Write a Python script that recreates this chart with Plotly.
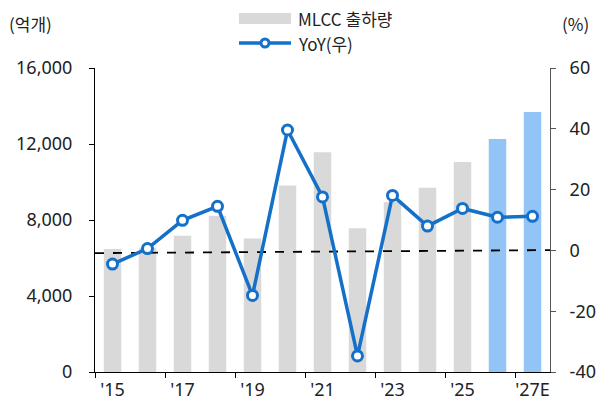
import plotly.graph_objects as go

years = ["'15", "'16", "'17", "'18", "'19", "'20", "'21", "'22", "'23", "'24", "'25", "'26E", "'27E"]
shipments = [6470, 6540, 7170, 8230, 7030, 9810, 11560, 7560, 8950, 9700, 11050, 12260, 13680]
yoy = [-4.5, 0.6, 9.9, 14.5, -14.8, 39.6, 17.6, -34.7, 18.1, 8.0, 13.8, 10.9, 11.2]
is_forecast = [False] * 11 + [True] * 2
ref_x = [-0.5, 12.5]
ref_y = [-0.9, 0.1]

tick_idx = [0, 2, 4, 6, 8, 10, 12]
tick_text = ["'15", "'17", "'19", "'21", "'23", "'25", "'27E"]
tick_bounds = [i - 0.5 for i in tick_idx]
pct_ticks = [-40, -20, 0, 20, 40, 60]
pct_text = ["-40", "-20", "0", "20", "40", "60"]

FONT = "Noto Sans CJK KR"
TICKFONT = dict(family="Noto Sans, Noto Sans CJK KR", size=18, color="#222222")
GRAY = "#d9d9d9"
BLUE = "#1470c8"
LIGHT = "#92c5f5"
x = list(range(len(years)))
bar_colors = [LIGHT if f else GRAY for f in is_forecast]

# plot area in pixels: left 95, right 550, top 68, bottom 372
L, R, T, B = 95, 550, 68, 372
def px(xp):
    return (xp - L) / (R - L)
def py(yp):
    return (B - yp) / (B - T)

fig = go.Figure()
fig.add_trace(go.Bar(x=x, y=shipments, name="MLCC 출하량", width=0.5,
                     marker=dict(color=bar_colors, line=dict(width=0)),
                     showlegend=False))
fig.add_trace(go.Scatter(x=ref_x, y=ref_y, yaxis="y2", mode="lines",
                         line=dict(color="black", width=1.8, dash="dash"),
                         showlegend=False, hoverinfo="skip"))
fig.add_trace(go.Scatter(x=x, y=yoy, yaxis="y2", name="YoY(우)",
                         mode="lines+markers",
                         line=dict(color=BLUE, width=3.5),
                         marker=dict(size=10, color="white",
                                     line=dict(color=BLUE, width=3)),
                         showlegend=False))

# legend keys drawn by hand (wide swatches like the original)
shapes = [
    dict(type="rect", xref="paper", yref="paper", x0=px(239), x1=px(291),
         y0=py(24), y1=py(13), fillcolor=GRAY, line=dict(width=0)),
    dict(type="line", xref="paper", yref="paper", x0=px(239), x1=px(291),
         y0=py(43), y1=py(43), line=dict(color=BLUE, width=3.5)),
    dict(type="circle", xref="paper", yref="paper", x0=px(261), x1=px(269),
         y0=py(47), y1=py(39), fillcolor="white", line=dict(color=BLUE, width=3)),
]

annotations = [
    dict(text="MLCC 출하량", x=px(296), y=py(18.5), xanchor="left"),
    dict(text="YoY(우)", x=px(296), y=py(43), xanchor="left"),
    dict(text="(억개)", x=px(7), y=py(23), xanchor="left"),
    dict(text="(%)", x=px(591), y=py(23), xanchor="right"),
]
for a in annotations:
    a.update(xref="paper", yref="paper", yanchor="middle", showarrow=False)

fig.update_layout(
    width=597, height=406,
    margin=dict(l=L, r=597 - R, t=T, b=406 - B, autoexpand=False),
    plot_bgcolor="white", paper_bgcolor="white",
    font=dict(family=FONT, size=17, color="#222222"),
    showlegend=False,
    xaxis=dict(range=[-0.5, 12.5], tickmode="array", tickvals=tick_idx,
               ticktext=tick_text, ticks="", showgrid=False, zeroline=False,
               showline=True, linecolor="black", linewidth=1, tickfont=TICKFONT,
               tickangle=0, automargin=False, ticklabelstandoff=1,
               minor=dict(tickmode="array", tickvals=tick_bounds, ticks="outside",
                          ticklen=5, tickcolor="black", showgrid=False)),
    yaxis=dict(range=[0, 16000], dtick=4000, tickformat=",", ticks="outside",
               ticklen=5, tickcolor="black", showgrid=False, zeroline=False,
               showline=True, linecolor="black", linewidth=1, automargin=False,
               tickfont=TICKFONT, ticklabelstandoff=13),
    yaxis2=dict(range=[-40, 60], tickmode="array", tickvals=pct_ticks,
                ticktext=pct_text, overlaying="y", side="right",
                ticks="outside", ticklen=5, tickcolor="#555555", showgrid=False,
                zeroline=False, showline=True, linecolor="#555555", linewidth=1,
                automargin=False, tickfont=TICKFONT, ticklabelstandoff=10),
    shapes=shapes,
    annotations=annotations,
)

fig.write_html("out.html", config={"displayModeBar": False},
               post_script="document.body.style.margin='0';")
